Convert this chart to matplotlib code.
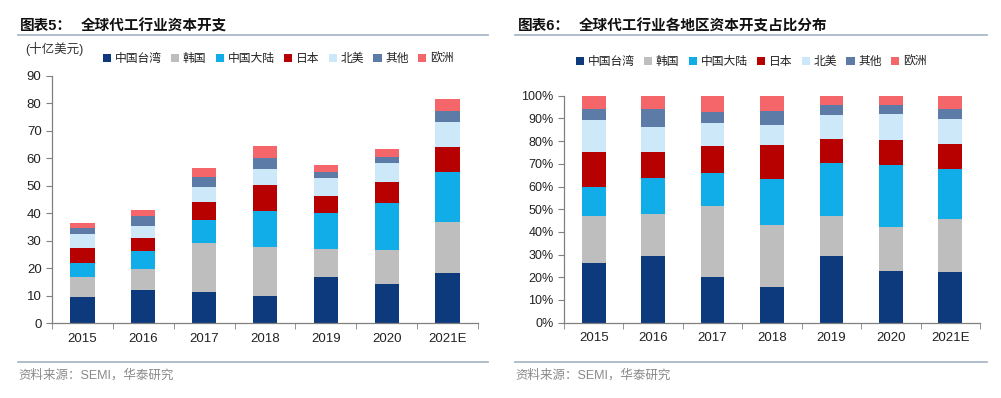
import numpy as np
import matplotlib
matplotlib.use("Agg")
import matplotlib.pyplot as plt
from matplotlib.lines import Line2D
from matplotlib.patches import Patch

plt.rcParams['font.family'] = ['Liberation Sans', 'Noto Sans CJK SC', 'DejaVu Sans']

years = ['2015', '2016', '2017', '2018', '2019', '2020', '2021E']
regions = ['中国台湾', '韩国', '中国大陆', '日本', '北美', '其他', '欧洲']
colors = ['#0C3A7D', '#BEBEBE', '#10ADE8', '#B70000', '#CDE8F8', '#5C7BA6', '#F4666A']

# chart 5: capex, billion USD
capex_tw = [9.5, 12.1, 11.3, 10.1, 16.8, 14.3, 18.2]
capex_kr = [7.5, 7.5, 17.8, 17.5, 10.1, 12.4, 18.6]
capex_cn = [4.8, 6.7, 8.4, 13.2, 13.3, 17.2, 18.2]
capex_jp = [5.5, 4.6, 6.5, 9.5, 6.2, 7.3, 9.0]
capex_na = [5.2, 4.3, 5.6, 5.8, 6.3, 7.0, 9.3]
capex_other = [2.0, 3.8, 3.4, 3.9, 2.2, 2.2, 3.7]
capex_eu = [2.0, 2.2, 3.6, 4.5, 2.6, 2.9, 4.6]

# chart 6: share of capex, %
share_tw = [26.3, 29.4, 20.1, 15.9, 29.5, 22.9, 22.3]
share_kr = [20.5, 18.5, 31.3, 27.3, 17.3, 19.4, 23.2]
share_cn = [13.1, 16.0, 14.7, 20.2, 23.4, 27.3, 22.0]
share_jp = [15.3, 11.1, 11.7, 14.7, 10.7, 11.0, 11.1]
share_na = [13.9, 11.0, 10.0, 9.0, 10.7, 11.5, 11.3]
share_other = [5.2, 8.3, 5.0, 6.0, 4.1, 3.9, 4.4]
share_eu = [5.7, 5.7, 7.2, 6.9, 4.3, 4.0, 5.7]

W, H = 1001, 398
fig = plt.figure(figsize=(W / 100, H / 100), dpi=100)


def px_axes(x0, x1, ytop, ybot):
    return fig.add_axes([x0 / W, 1 - ybot / H, (x1 - x0) / W, (ybot - ytop) / H])


def stacked(ax, series):
    x = np.arange(len(years))
    bottom = np.zeros(len(years))
    for vals, c in zip(series, colors):
        ax.bar(x, vals, bottom=bottom, width=0.4, color=c, linewidth=0)
        bottom += np.array(vals)
    ax.set_xlim(-0.5, len(years) - 0.5)
    ax.set_xticks(x)
    ax.set_xticklabels(years)
    ax.set_xticks(np.arange(-0.5, len(years), 1.0), minor=True)
    ax.tick_params(axis='x', which='major', length=0, pad=7, labelsize=9.5, colors='#222222')
    ax.tick_params(axis='x', which='minor', length=4, color='#808080', direction='out')
    ax.tick_params(axis='y', length=4, color='#808080', labelsize=9.5, colors='#222222')
    for s in ['top', 'right']:
        ax.spines[s].set_visible(False)
    for s in ['left', 'bottom']:
        ax.spines[s].set_color('#808080')
        ax.spines[s].set_linewidth(0.9)


def legend(cx, cy):
    handles = [Patch(facecolor=c, edgecolor='none') for c in colors]
    fig.legend(handles, regions, loc='center', bbox_to_anchor=(cx / W, 1 - cy / H),
               ncol=7, frameon=False, fontsize=8.5, handlelength=0.7, handleheight=0.7,
               handletextpad=0.3, columnspacing=0.8, labelcolor='#222222')


# left chart
ax1 = px_axes(52, 478, 75.7, 323.3)
stacked(ax1, [capex_tw, capex_kr, capex_cn, capex_jp, capex_na, capex_other, capex_eu])
ax1.set_ylim(0, 90)
ax1.set_yticks(range(0, 91, 10))

# right chart
ax2 = px_axes(564, 980, 95.7, 322.7)
stacked(ax2, [share_tw, share_kr, share_cn, share_jp, share_na, share_other, share_eu])
ax2.set_ylim(0, 100)
ax2.set_yticks(range(0, 101, 10))
ax2.set_yticklabels([f'{v}%' for v in range(0, 101, 10)])
ax2.tick_params(axis='y', labelsize=9)

# titles, rules, notes
for x_lab, x_title, lab, title, x0, x1 in [
        (20, 81, '图表5：', '全球代工行业资本开支', 18, 488),
        (518, 579, '图表6：', '全球代工行业各地区资本开支占比分布', 515, 987)]:
    fig.text(x_lab / W, 1 - 26 / H, lab, fontsize=10.5, fontweight='bold', va='center', color='#111111')
    fig.text(x_title / W, 1 - 26 / H, title, fontsize=10.5, fontweight='bold', va='center', color='#111111')
    fig.add_artist(Line2D([x0 / W, x1 / W], [1 - 35 / H] * 2, color='#A9B9C8', lw=1.3))
    fig.add_artist(Line2D([x0 / W, x1 / W], [1 - 362 / H] * 2, color='#A9B9C8', lw=1.3))
    fig.text(x0 / W, 1 - 375 / H, '资料来源：SEMI，华泰研究', fontsize=9, va='center', color='#8A8A8A')

fig.text(25 / W, 1 - 49 / H, '(十亿美元)', fontsize=9, va='center', color='#333333')
legend(278, 59)
legend(751, 62)

fig.savefig('out.png', dpi=100)
